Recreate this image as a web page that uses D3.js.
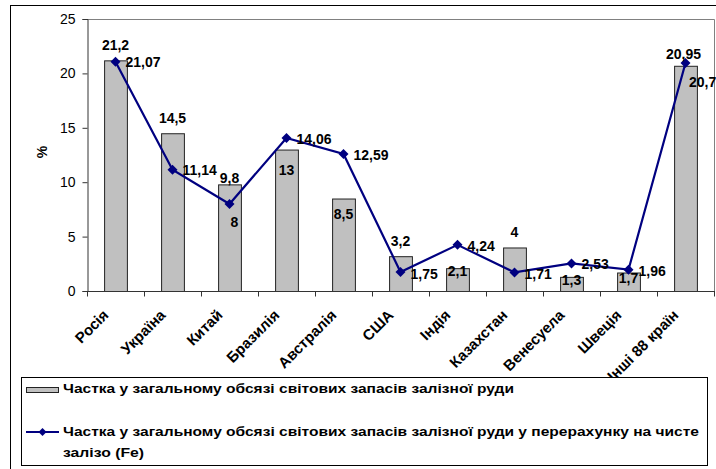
<!DOCTYPE html>
<html>
<head>
<meta charset="utf-8">
<script src="https://cdn.jsdelivr.net/npm/d3@7"></script>
<style>
  html, body { margin: 0; padding: 0; background: #fff; }
  svg { display: block; font-family: "Liberation Sans", Arial, sans-serif; }
</style>
</head>
<body>
<svg id="chart" width="716" height="469"></svg>
<script>
// ---- data ----
const categories = ["Росія", "Україна", "Китай", "Бразилія", "Австралія", "США", "Індія", "Казахстан", "Венесуела", "Швеція", "Інші 88 країн"];
const oreShare = [21.2, 14.5, 9.8, 13, 8.5, 3.2, 2.1, 4, 1.3, 1.7, 20.7];
const feShare = [21.07, 11.14, 8, 14.06, 12.59, 1.75, 4.24, 1.71, 2.53, 1.96, 20.95];
const yTicks = [0, 5, 10, 15, 20, 25];
const seriesNames = [
  "Частка у загальному обсязі світових запасів залізної руди",
  "Частка у загальному обсязі світових запасів залізної руди у перерахунку на чисте",
  "залізо (Fe)"
];
const yTitle = "%";

// ---- label layout (placement only) ----
// bar labels: [dx, dy from bar top to baseline, anchor]
const barLabelLayout = [
  [0, -10.5, "middle"], [0, -10.5, "middle"], [0, -1.7, "middle"], [0, 25, "middle"],
  [0, 20.5, "middle"], [0, -10.5, "middle"], [0, 8, "middle"], [0, -10.5, "middle"],
  [0, 8.5, "middle"], [0, 10.5, "middle"], [3.5, 21.7, "start"]
];
// line labels: [dx, dy from point to baseline, anchor]
const lineLabelLayout = [
  [10, 5, "start"], [10, 5, "start"], [5, 23.5, "middle"], [10, 6, "start"],
  [10, 6, "start"], [10, 7, "start"], [10, 6, "start"], [10, 7, "start"],
  [10, 6, "start"], [10, 6, "start"], [-2, -4, "middle"]
];

const fmt = v => String(v).replace(".", ",");

const svg = d3.select("#chart");
const pLeft = 87, pRight = 714, pTop = 19, pBottom = 291;

// outer chart border
svg.append("rect").attr("x", 10.5).attr("y", 5.5).attr("width", 720).attr("height", 480)
  .attr("fill", "#fff").attr("stroke", "#000").attr("stroke-width", 1);

const x = d3.scaleBand().domain(categories).range([pLeft, pRight]).padding(0);
const y = d3.scaleLinear().domain([0, 25]).range([pBottom, pTop]);
const bw = x.bandwidth();

// plot area border (top + right)
svg.append("path")
  .attr("d", `M${pLeft},${pTop + 0.5}H${pRight + 0.5}V${pBottom}`)
  .attr("fill", "none").attr("stroke", "#808080").attr("stroke-width", 1);

// bars
svg.append("g").selectAll("rect").data(categories).join("rect")
  .attr("x", c => x(c) + bw * 0.3 + 0.5)
  .attr("y", (c, i) => y(oreShare[i]) + 0.5)
  .attr("width", bw * 0.4)
  .attr("height", (c, i) => y(0) - y(oreShare[i]))
  .attr("fill", "#c0c0c0").attr("stroke", "#222").attr("stroke-width", 1);

// y axis
const yAxis = svg.append("g").attr("transform", `translate(${pLeft + 0.5},0)`)
  .call(d3.axisLeft(y).tickValues(yTicks).tickSize(5).tickPadding(7).tickFormat(d => d));
yAxis.select(".domain").attr("stroke", "#333");
yAxis.selectAll(".tick line").attr("stroke", "#333");
yAxis.selectAll(".tick text").attr("font-size", 14).attr("fill", "#000")
  .attr("font-family", "Liberation Sans, Arial, sans-serif");

// x axis (ticks between categories)
const xAxis = svg.append("g").attr("transform", `translate(0,${pBottom + 0.5})`)
  .call(d3.axisBottom(x).tickSize(0).tickFormat(""));
xAxis.select(".domain").attr("stroke", "#333").attr("d", `M${pLeft},0H${pRight + 1}`);
const edges = categories.map(c => x(c)).concat([pRight]);
xAxis.selectAll("line.sep").data(edges).join("line").attr("class", "sep")
  .attr("x1", d => Math.round(d) + 0.5).attr("x2", d => Math.round(d) + 0.5)
  .attr("y1", 0).attr("y2", 5).attr("stroke", "#333");

// y title
svg.append("text").attr("transform", "translate(47,152) rotate(-90)")
  .attr("text-anchor", "middle").attr("font-size", 14).attr("font-weight", "bold").text(yTitle);

// category labels (drawn before the legend so the legend box covers the long one)
svg.append("g").selectAll("text").data(categories).join("text")
  .attr("transform", c => `translate(${x(c) + bw / 2 - 6},${pBottom + 25}) rotate(-45)`)
  .attr("text-anchor", "end").attr("font-size", 15).attr("font-weight", "bold").text(c => c);

// line
const line = d3.line().x((d, i) => x(categories[i]) + bw / 2).y(d => y(d));
svg.append("path").datum(feShare).attr("d", line)
  .attr("fill", "none").attr("stroke", "#000080").attr("stroke-width", 2.2);
const diamond = "M0,-5L5,0L0,5L-5,0Z";
svg.append("g").selectAll("path").data(feShare).join("path")
  .attr("transform", (d, i) => `translate(${x(categories[i]) + bw / 2},${y(d)})`)
  .attr("d", diamond).attr("fill", "#000080");

// bar labels
svg.append("g").selectAll("text").data(oreShare).join("text")
  .attr("x", (d, i) => x(categories[i]) + bw / 2 + barLabelLayout[i][0])
  .attr("y", (d, i) => y(d) + barLabelLayout[i][1])
  .attr("text-anchor", (d, i) => barLabelLayout[i][2])
  .attr("font-size", 14).attr("font-weight", "bold").text(d => fmt(d));

// line labels
svg.append("g").selectAll("text").data(feShare).join("text")
  .attr("x", (d, i) => x(categories[i]) + bw / 2 + lineLabelLayout[i][0])
  .attr("y", (d, i) => y(d) + lineLabelLayout[i][1])
  .attr("text-anchor", (d, i) => lineLabelLayout[i][2])
  .attr("font-size", 14).attr("font-weight", "bold").text(d => fmt(d));

// legend
const lg = svg.append("g");
lg.append("rect").attr("x", 21.5).attr("y", 377.5).attr("width", 686).attr("height", 88)
  .attr("fill", "#fff").attr("stroke", "#000").attr("stroke-width", 1);
lg.append("rect").attr("x", 26.5).attr("y", 387.5).attr("width", 32).attr("height", 5)
  .attr("fill", "#c0c0c0").attr("stroke", "#222");
lg.append("line").attr("x1", 26).attr("x2", 59).attr("y1", 432).attr("y2", 432)
  .attr("stroke", "#000080").attr("stroke-width", 2.2);
lg.append("path").attr("transform", "translate(42.5,432)").attr("d", "M0,-4L4,0L0,4L-4,0Z").attr("fill", "#000080");
const legendLines = [[393, 451], [436, 636], [457, 81]];
lg.selectAll("text.lt").data(seriesNames).join("text").attr("class", "lt")
  .attr("x", 63).attr("y", (d, i) => legendLines[i][0])
  .attr("font-size", 13).attr("font-weight", "bold")
  .attr("textLength", (d, i) => legendLines[i][1]).attr("lengthAdjust", "spacingAndGlyphs")
  .text(d => d);
</script>
</body>
</html>
